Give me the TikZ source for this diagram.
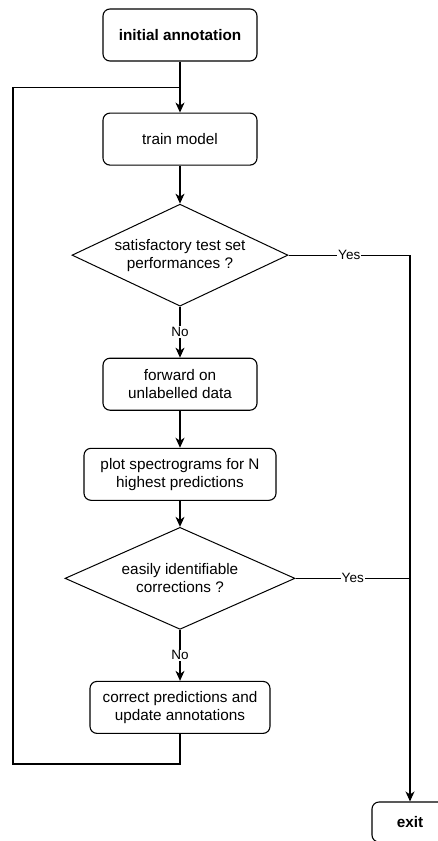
\documentclass[tikz,border=0pt]{standalone}
\usepackage{fontspec}
\setmainfont{Liberation Sans}
\usetikzlibrary{shapes.geometric, arrows.meta, positioning, calc}

\begin{document}
\begin{tikzpicture}[
    x=1pt, y=-1pt,
    node distance=51pt,
    block/.style={rectangle, draw, line width=1.1pt, rounded corners=7pt, align=center, minimum width=154pt, minimum height=52pt, inner sep=0pt, font=\fontsize{15.3}{18}\selectfont},
    boldblock/.style={block, font=\fontsize{15.3}{18}\selectfont\bfseries},
    decision/.style={diamond, draw, line width=1pt, aspect=2, align=center, inner sep=0pt, font=\fontsize{15.3}{18}\selectfont},
    arrow/.style={-{Stealth[length=10pt, width=9pt, inset=3pt]}, line width=1.1pt},
    line/.style={line width=1.1pt},
    lbl/.style={fill=white, inner sep=1pt, font=\fontsize{13.5}{16}\selectfont}
]
\useasboundingbox (0,0) rectangle (438,841);
\node[boldblock] (init) at (180,35) {initial annotation};
\node[block, below=51pt of init] (train) {train model};
\node[decision, minimum width=216pt, minimum height=102pt, below=38pt of train] (perf) {satisfactory test set\\performances ?};
\node[block, below=51pt of perf] (fwd) {forward on\\unlabelled data};
\node[block, minimum width=192pt, below=37pt of fwd] (plot) {plot spectrograms for N\\highest predictions};
\node[decision, minimum width=230pt, minimum height=102pt, below=26pt of plot] (easy) {easily identifiable\\corrections ?};
\node[block, minimum width=180pt, below=51pt of easy] (fix) {correct predictions and\\update annotations};
\node[boldblock, minimum width=76pt, minimum height=40pt] (exit) at (410,822) {exit};

\coordinate (loop) at ($(init.south)!0.5!(train.north)$);
\coordinate (back) at (13,764);

\draw[arrow] (init) -- (train);
\draw[arrow] (train) -- (perf);
\draw[arrow] (perf) -- node[lbl] {No} (fwd);
\draw[arrow] (fwd) -- (plot);
\draw[arrow] (plot) -- (easy);
\draw[arrow] (easy) -- node[lbl] {No} (fix);
\draw[line] (fix.south) |- (back) |- (loop);
\draw[arrow] (perf.east) -| node[lbl, pos=0.25] {Yes} (exit.north);
\draw[line] (easy.east) -- node[lbl] {Yes} (easy.east -| exit.north);
\end{tikzpicture}
\end{document}
